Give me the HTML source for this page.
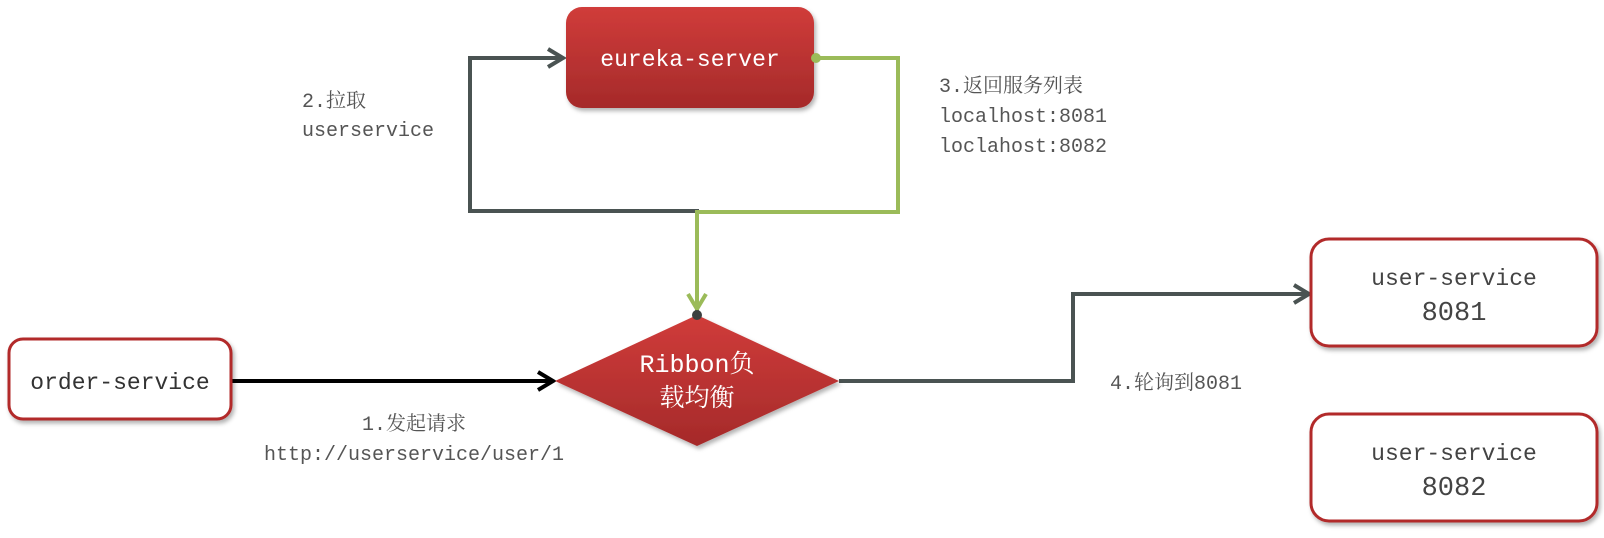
<!DOCTYPE html>
<html><head><meta charset="utf-8"><style>
html,body{margin:0;padding:0;background:#fff;}
svg text{font-family:"Liberation Mono","Noto Serif CJK SC",monospace;}
</style></head><body>
<svg width="1604" height="533" viewBox="0 0 1604 533" xmlns="http://www.w3.org/2000/svg">
<defs>
<linearGradient id="rg" x1="0" y1="0" x2="0" y2="1">
<stop offset="0" stop-color="#d03c3a"/><stop offset="1" stop-color="#a52a2a"/>
</linearGradient>
<filter id="sh" x="-10%" y="-10%" width="130%" height="140%"><feDropShadow dx="2" dy="3" stdDeviation="2" flood-color="#000" flood-opacity="0.3"/></filter>
</defs>
<polyline points="697,312 697,211 470,211 470,58 560,58" fill="none" stroke="#4a5352" stroke-width="4"/>
<polyline points="548,49 563,58 548,67" fill="none" stroke="#4a5352" stroke-width="4"/>
<polyline points="814,58 898,58 898,212 697,212 697,308" fill="none" stroke="#9bbb59" stroke-width="4"/>
<polyline points="688,294 697,309 706,294" fill="none" stroke="#9bbb59" stroke-width="4"/>
<line x1="231" y1="381" x2="550" y2="381" stroke="#000" stroke-width="4"/>
<polyline points="538,372 553,381 538,390" fill="none" stroke="#000" stroke-width="4"/>
<polyline points="839,381 1073,381 1073,294 1306,294" fill="none" stroke="#4a5352" stroke-width="4"/>
<polyline points="1294,285 1309,294 1294,303" fill="none" stroke="#4a5352" stroke-width="4"/>
<rect x="566" y="7" width="248" height="101" rx="16" fill="url(#rg)" filter="url(#sh)"/>
<circle cx="816" cy="58" r="5" fill="#9bbb59"/>
<text x="690" y="66" font-size="23" fill="#fff" text-anchor="middle">eureka-server</text>
<polygon points="555,381 697,315 839,381 697,446" fill="url(#rg)" filter="url(#sh)"/>
<circle cx="697" cy="315" r="5" fill="#3b3f3f"/>
<text x="697" y="372" font-size="25" fill="#fff" text-anchor="middle">Ribbon负</text>
<text x="697" y="406" font-size="25" fill="#fff" text-anchor="middle">载均衡</text>
<rect x="9" y="339" width="222" height="80" rx="14" fill="#fff" stroke="#b22c2c" stroke-width="3" filter="url(#sh)"/>
<text x="120" y="389" font-size="23" fill="#333" text-anchor="middle">order-service</text>
<rect x="1311" y="239" width="286" height="107" rx="18" fill="#fff" stroke="#b22c2c" stroke-width="3" filter="url(#sh)"/>
<text x="1454" y="285" font-size="23" fill="#444" text-anchor="middle">user-service</text>
<text x="1454" y="320" font-size="27" fill="#444" text-anchor="middle">8081</text>
<rect x="1311" y="414" width="286" height="107" rx="18" fill="#fff" stroke="#b22c2c" stroke-width="3" filter="url(#sh)"/>
<text x="1454" y="460" font-size="23" fill="#444" text-anchor="middle">user-service</text>
<text x="1454" y="495" font-size="27" fill="#444" text-anchor="middle">8082</text>
<g font-size="20" fill="#555">
<text x="302" y="107">2.拉取</text>
<text x="302" y="136">userservice</text>
<text x="939" y="92">3.返回服务列表</text>
<text x="939" y="122">localhost:8081</text>
<text x="939" y="152">loclahost:8082</text>
<text x="414" y="430" text-anchor="middle">1.发起请求</text>
<text x="264" y="460">http://userservice/user/1</text>
<text x="1110" y="389">4.轮询到8081</text>
</g>
</svg>
</body></html>
